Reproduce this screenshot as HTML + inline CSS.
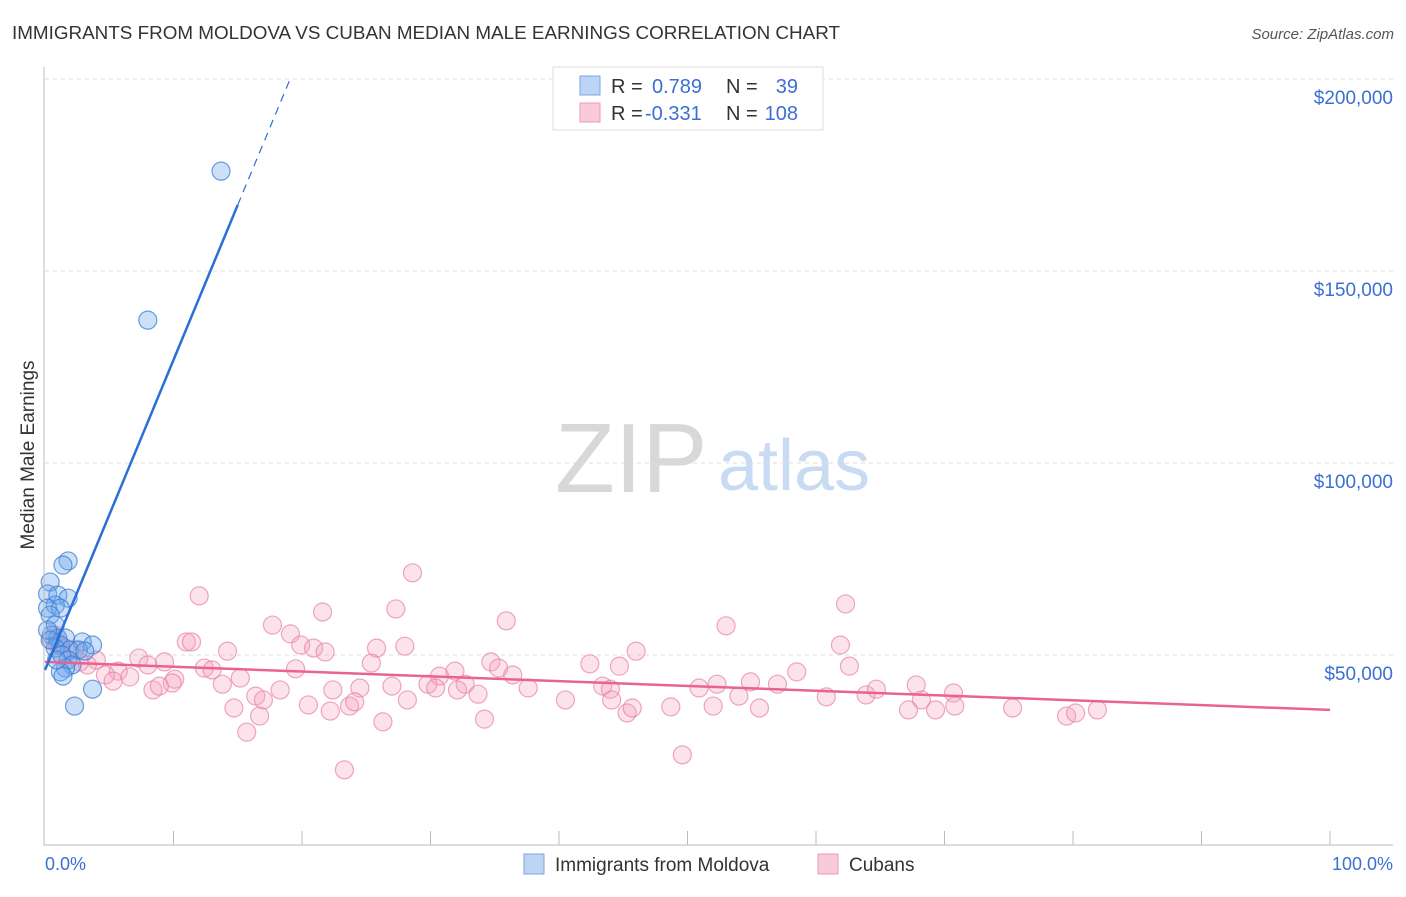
<!DOCTYPE html>
<html><head><meta charset="utf-8"><style>
body{margin:0;background:#fff;font-family:"Liberation Sans",sans-serif}
svg text{font-family:"Liberation Sans",sans-serif}
</style></head><body>
<svg id="c" width="1406" height="892" viewBox="0 0 1406 892">
<text x="12" y="39" font-size="18" fill="#333" textLength="828" lengthAdjust="spacingAndGlyphs">IMMIGRANTS FROM MOLDOVA VS CUBAN MEDIAN MALE EARNINGS CORRELATION CHART</text>
<text x="1394" y="39" font-size="15" fill="#555" font-style="italic" text-anchor="end">Source: ZipAtlas.com</text>
<text x="555" y="492" font-size="98" fill="#d8d8d8" font-family="Liberation Serif">ZIP</text>
<text x="718" y="490" font-size="72" fill="#c8dbf2">atlas</text>
<g id="grid"></g>
<g id="marks"></g>
<line x1="44" y1="67" x2="44" y2="845" stroke="#bbb"/>
<line x1="44" y1="845" x2="1393" y2="845" stroke="#bbb"/>
<text x="34" y="455" font-size="19" fill="#333" text-anchor="middle" transform="rotate(-90 34 455)">Median Male Earnings</text>
<text x="45" y="870" font-size="18" fill="#3b6fd4">0.0%</text>
<text x="1393" y="870" font-size="18" fill="#3b6fd4" text-anchor="end">100.0%</text>
<g>
<rect x="524" y="854" width="20" height="20" fill="#bcd5f5" stroke="#7aa6e6"/>
<text x="555" y="871" font-size="19" fill="#333">Immigrants from Moldova</text>
<rect x="818" y="854" width="20" height="20" fill="#f9cbd9" stroke="#ee9ab5"/>
<text x="849" y="871" font-size="19" fill="#333">Cubans</text>
</g>
<g>
<rect x="553" y="67" width="270" height="63" fill="#fff" stroke="#ddd"/>
<rect x="580" y="76" width="20" height="19" fill="#bcd5f5" stroke="#7aa6e6"/>
<rect x="580" y="103" width="20" height="19" fill="#f9cbd9" stroke="#ee9ab5"/>
<text x="611" y="93" font-size="20" fill="#333">R =</text>
<text x="652" y="93" font-size="20" fill="#3b6fd4">0.789</text>
<text x="726" y="93" font-size="20" fill="#333">N =</text>
<text x="798" y="93" font-size="20" fill="#3b6fd4" text-anchor="end">39</text>
<text x="611" y="120" font-size="20" fill="#333">R =</text>
<text x="645" y="120" font-size="20" fill="#3b6fd4">-0.331</text>
<text x="726" y="120" font-size="20" fill="#333">N =</text>
<text x="798" y="120" font-size="20" fill="#3b6fd4" text-anchor="end">108</text>
</g>
</svg>
<script>
const yTicks=[50000,100000,150000,200000];
const yTickLabels=["$50,000","$100,000","$150,000","$200,000"];
const blueX=[13.7,8.0,1.8,1.4,0.4,0.2,1.0,1.8,0.8,0.2,1.2,0.4,0.8,0.5,1.0,1.6,2.9,3.7,1.2,1.9,2.6,3.1,0.8,1.3,1.8,2.1,1.6,1.2,1.4,3.7,2.3,0.4,0.2,0.9];
const blueY=[176000,137200,74500,73400,69000,65900,65600,64800,63000,62200,62200,60400,57800,55200,54400,54400,53400,52600,52600,51300,51300,51000,51800,50000,48700,47400,46600,45600,44500,41100,36700,53900,56500,48700];
const pinkX=[12.0,28.6,62.3,21.6,27.3,35.9,53.0,17.7,19.1,11.0,11.4,14.2,19.9,20.9,21.8,25.8,28.0,46.0,61.9,7.3,9.3,8.0,12.4,13.0,19.5,25.4,34.7,35.3,31.9,42.4,44.7,62.6,58.5,4.0,3.3,5.7,4.7,6.6,5.3,10.1,9.9,8.4,8.9,15.2,13.8,27.0,24.5,22.4,29.8,30.7,32.7,36.4,37.6,30.4,32.1,33.7,43.4,44.0,50.9,52.3,54.9,57.0,54.0,52.0,60.8,63.9,64.7,67.8,70.7,68.2,70.8,67.2,69.3,75.3,79.5,80.2,81.9,16.4,17.0,18.3,20.5,22.2,23.7,24.1,28.2,34.2,40.5,44.1,45.3,45.7,48.7,55.6,26.3,15.7,14.7,16.7,23.3,49.6,0.8,1.0,1.6,2.3,2.7,1.3,0.5];
const pinkY=[65400,71400,63300,61200,62000,58900,57600,57800,55500,53400,53400,51000,52600,51800,50800,51800,52300,51000,52600,49200,48200,47400,46600,46100,46400,47900,48200,46600,45800,47700,47100,47100,45600,48700,47400,45800,44800,44300,43200,43700,42700,40900,41900,44000,42400,41900,41400,40900,42400,44500,42400,44800,41400,41400,40900,39800,41900,41100,41400,42400,43000,42400,39300,36700,39100,39600,41100,42200,40100,38300,36700,35700,35700,36200,34100,34900,35700,39300,38300,40900,37000,35400,36700,37800,38300,33300,38300,38300,34900,36200,36500,36200,32600,29900,36200,34100,20100,24000,55200,52600,51800,51300,48200,50000,53900];
const blueTrend=[0,46100,15.0,167200,19.1,200200];
const pinkTrend=[0,48200,100,35700];
const sx=p=>45+p*12.85, sy=v=>847-v*0.00384;
const NS="http://www.w3.org/2000/svg";
const grid=document.getElementById('grid'), marks=document.getElementById('marks'), svg=document.getElementById('c');
function mk(tag,at,parent){const e=document.createElementNS(NS,tag);for(const k in at)e.setAttribute(k,at[k]);parent.appendChild(e);return e;}
yTicks.forEach((t,i)=>{
 const l=mk('line',{x1:45,x2:1393,y1:sy(t),y2:sy(t),stroke:'#ddd','stroke-dasharray':'4,4'},grid);
 
 
 const tx=mk('text',{x:1393,y:sy(t)+25,'font-size':19,fill:'#3b6fd4','text-anchor':'end'},svg);
 tx.textContent=yTickLabels[i];
 
 
});
for(let k=1;k<=10;k++){
 const l=mk('line',{x1:sx(k*10),x2:sx(k*10),y1:831,y2:845,stroke:'#bbb'},grid);
 
 
}
pinkX.forEach((x,i)=>{
 const c=mk('circle',{cx:sx(x),cy:sy(pinkY[i]),r:9,fill:'rgba(244,160,190,0.3)',stroke:'rgba(232,130,165,0.7)','stroke-width':1.2},marks);
 
 
});
blueX.forEach((x,i)=>{
 const c=mk('circle',{cx:sx(x),cy:sy(blueY[i]),r:9,fill:'rgba(110,165,235,0.35)',stroke:'rgba(60,125,215,0.75)','stroke-width':1.2},marks);
 
 
});
const pl=mk('line',{x1:sx(pinkTrend[0]),y1:sy(pinkTrend[1]),x2:sx(pinkTrend[2]),y2:sy(pinkTrend[3]),stroke:'#e8648f','stroke-width':2.5},marks);


const bl=mk('line',{x1:sx(blueTrend[0]),y1:sy(blueTrend[1]),x2:sx(blueTrend[2]),y2:sy(blueTrend[3]),stroke:'#2a6fd6','stroke-width':2.5},marks);


const bd=mk('line',{x1:sx(blueTrend[2]),y1:sy(blueTrend[3]),x2:sx(blueTrend[4]),y2:sy(blueTrend[5]),stroke:'#2a6fd6','stroke-width':1.2,'stroke-dasharray':'8,6'},marks);


</script>
</body></html>
